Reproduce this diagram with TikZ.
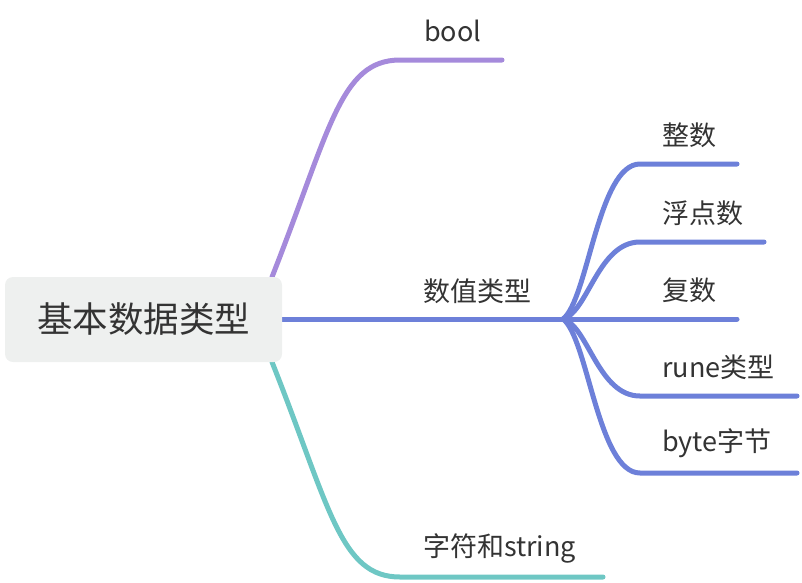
\documentclass[tikz,border=0pt]{standalone}
\usepackage{fontspec}
\setmainfont{Noto Sans CJK SC}
\definecolor{purp}{HTML}{A58ADB}
\definecolor{blu}{HTML}{6D80D9}
\definecolor{teal2}{HTML}{6EC7C4}
\definecolor{rootfill}{HTML}{EEF0EF}
\definecolor{txt}{HTML}{333333}
\begin{document}
\begin{tikzpicture}[x=1pt,y=-1pt,
  branch/.style={line width=5pt,line cap=round},
  lbl/.style={anchor=west,inner sep=0pt,text=txt,font=\fontsize{27}{32}\selectfont},
  rootbox/.style={fill=rootfill,rounded corners=8pt,text=txt,font=\fontsize{35.5}{40}\selectfont,minimum width=277pt,minimum height=85pt,inner sep=0pt}]
\useasboundingbox (0,0) rectangle (802,582);
% connectors first
\coordinate (rp) at (272,277);
\coordinate (rb) at (282,319);
\coordinate (rt) at (272,362);
\coordinate (j) at (563,319);
\coordinate (boolA) at (400,60);
\coordinate (boolB) at (502,60);
\coordinate (strA) at (400,577);
\coordinate (strB) at (603,577);
\coordinate (s1a) at (640,164); \coordinate (s1b) at (737,164);
\coordinate (s2a) at (640,242); \coordinate (s2b) at (764,242);
\coordinate (s3b) at (737,319);
\coordinate (s4a) at (640,396); \coordinate (s4b) at (797,396);
\coordinate (s5a) at (640,473); \coordinate (s5b) at (797,473);
\draw[branch,purp] (rp) .. controls (330,130) and (340,60) .. (boolA) -- (boolB);
\draw[branch,teal2] (rt) .. controls (330,508) and (340,577) .. (strA) -- (strB);
\draw[branch,blu] (rb) -- (j);
\draw[branch,blu] (j) .. controls (588,300) and (598,164) .. (s1a) -- (s1b);
\draw[branch,blu] (j) .. controls (588,312) and (598,242) .. (s2a) -- (s2b);
\draw[branch,blu] (j) -- (s3b);
\draw[branch,blu] (j) .. controls (588,326) and (598,396) .. (s4a) -- (s4b);
\draw[branch,blu] (j) .. controls (588,338) and (598,473) .. (s5a) -- (s5b);
% root
\node[rootbox] (root) at (143.5,319.5) {基本数据类型};
% labels
\node[lbl] (bool) at (424,31) {bool};
\node[lbl] (num) at (423,291) {数值类型};
\node[lbl] (str) at (423,548) {字符和string};
\node[lbl] (int) at (662,135) {整数};
\node[lbl] (flt) at (662,213) {浮点数};
\node[lbl] (cpx) at (662,290) {复数};
\node[lbl] (rune) at (662,367) {rune类型};
\node[lbl] (byte) at (662,443) {byte字节};
\end{tikzpicture}
\end{document}
